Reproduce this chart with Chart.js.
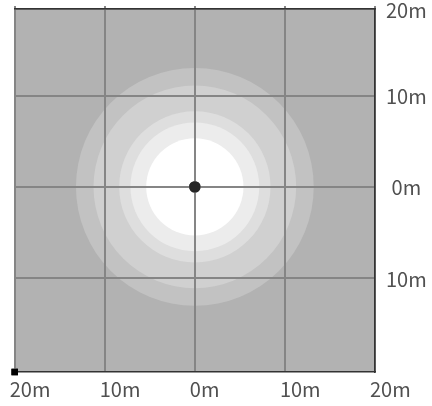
<!DOCTYPE html>
<html>
<head>
<meta charset="utf-8">
<script src="https://cdn.jsdelivr.net/npm/chart.js@4/dist/chart.umd.min.js"></script>
<style>
  html, body { margin: 0; padding: 0; background: #ffffff; }
  #wrap { width: 432px; height: 406px; position: relative; }
</style>
</head>
<body>
<div id="wrap"><canvas id="c"></canvas></div>
<script>
// ---- data ----
const xMin = -20, xMax = 20;             // metres
const yMin = -20.3, yMax = 19.5;          // metres (frame is slightly shifted vertically)
const xTickValues = [-20, -10, 0, 10, 20];
const xTickLabels = ['20m', '10m', '0m', '10m', '20m'];
const yTickValues = [-10, 0, 10, 19.5];
const yTickLabels = ['10m', '0m', '10m', '20m'];
const ringRadii = [13.2, 11.25, 8.4, 7.15, 5.4];          // metres, outer to inner
const ringColors = ['#c2c2c2', '#d0d0d0', '#dedede', '#ececec', '#ffffff'];
const centerPoint = [{ x: 0, y: 0 }];
const cornerPoint = [{ x: -20, y: -20.3 }];

const GRID = '#858585';
const BORDER = '#333333';
const TEXT = '#505050';
const FONT = '"Noto Sans CJK JP", "Noto Sans", sans-serif';

const bgPlugin = {
  id: 'plotBg',
  beforeDraw(chart) {
    const { ctx, chartArea: a } = chart;
    ctx.save();
    ctx.fillStyle = '#b2b2b2';
    ctx.fillRect(a.left, a.top, a.right - a.left, a.bottom - a.top);
    ctx.restore();
  },
  afterDraw(chart) {
    // re-draw centre dot and corner marker on top of the grid lines
    [1, 2].forEach(i => {
      const meta = chart.getDatasetMeta(i);
      meta.data.forEach(el => el.draw(chart.ctx, chart.chartArea));
    });
  }
};

function ringPx(ctx) {
  const s = ctx.chart.scales.x;
  const r = ringRadii[ctx.dataIndex];
  return Math.abs(s.getPixelForValue(r) - s.getPixelForValue(0));
}

new Chart(document.getElementById('c'), {
  type: 'scatter',
  data: {
    datasets: [
      {
        data: ringRadii.map(() => ({ x: 0, y: 0 })),
        backgroundColor: ringColors,
        borderWidth: 0,
        pointRadius: ringPx,
        pointHoverRadius: ringPx,
        order: 3,
        clip: false
      },
      {
        data: centerPoint,
        backgroundColor: '#262626',
        borderWidth: 0,
        pointRadius: 5.7,
        order: 1,
        clip: false
      },
      {
        data: cornerPoint,
        backgroundColor: '#000000',
        borderWidth: 0,
        pointStyle: 'rect',
        pointRadius: 4.6,
        order: 0,
        clip: false
      }
    ]
  },
  options: {
    responsive: true,
    maintainAspectRatio: false,
    animation: false,
    events: [],
    layout: { padding: { left: 14.7, right: 5.3, top: 6, bottom: 0 } },
    plugins: { legend: { display: false }, tooltip: { enabled: false } },
    scales: {
      x: {
        type: 'linear',
        position: 'bottom',
        min: xMin, max: xMax,
        afterBuildTicks: s => { s.ticks = xTickValues.map(v => ({ value: v })); },
        grid: { color: GRID, lineWidth: 2, drawTicks: false, z: 1 },
        border: { display: true, color: BORDER, width: 1.5, z: 2 },
        ticks: {
          align: 'start',
          labelOffset: -5,
          padding: 5,
          color: TEXT,
          font: { family: FONT, size: 20 },
          maxRotation: 0,
          callback: (v, i) => xTickLabels[i]
        }
      },
      x2: {
        type: 'linear',
        position: 'top',
        min: xMin, max: xMax,
        afterBuildTicks: s => { s.ticks = xTickValues.map(v => ({ value: v })); },
        grid: { color: GRID, lineWidth: 2, drawOnChartArea: false, drawTicks: true, tickLength: 3, z: 1 },
        border: { display: true, color: BORDER, width: 1.5, z: 2 },
        ticks: { display: false }
      },
      y: {
        type: 'linear',
        position: 'right',
        min: yMin, max: yMax,
        afterBuildTicks: s => { s.ticks = yTickValues.map(v => ({ value: v })); },
        grid: { color: GRID, lineWidth: 2, drawTicks: true, tickLength: 11, tickColor: 'rgba(0,0,0,0)', z: 1 },
        border: { display: true, color: BORDER, width: 1.5, z: 2 },
        ticks: {
          crossAlign: 'center',
          padding: 0,
          labelOffset: 1,
          color: TEXT,
          font: { family: FONT, size: 20, lineHeight: 0.9 },
          callback: (v, i) => yTickLabels[i]
        }
      }
    }
  },
  plugins: [bgPlugin]
});
</script>
</body>
</html>
